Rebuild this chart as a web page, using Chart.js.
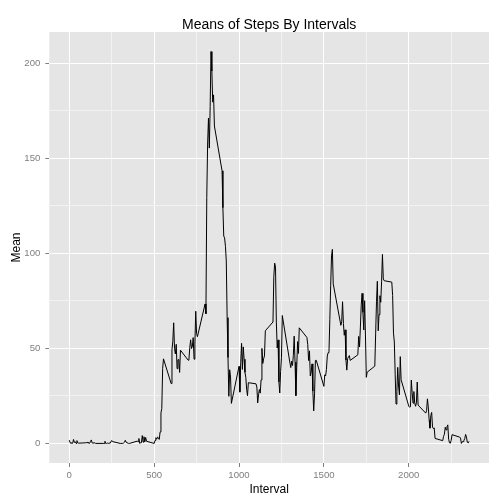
<!DOCTYPE html>
<html>
<head>
<meta charset="utf-8">
<script src="https://cdn.jsdelivr.net/npm/chart.js@4/dist/chart.umd.min.js"></script>
<style>
html,body{margin:0;padding:0;background:#fff;}
#wrap{width:504px;height:504px;}
</style>
</head>
<body>
<div id="wrap"><canvas id="c" width="504" height="504"></canvas></div>
<script>
const titleText = "Means of Steps By Intervals";
const xTitle = "Interval";
const yTitle = "Mean";

const intervals = [
0,5,10,15,20,25,30,35,40,45,50,55,
100,105,110,115,120,125,130,135,140,145,150,155,
200,205,210,215,220,225,230,235,240,245,250,255,
300,305,310,315,320,325,330,335,340,345,350,355,
400,405,410,415,420,425,430,435,440,445,450,455,
500,505,510,515,520,525,530,535,540,545,550,555,
600,605,610,615,620,625,630,635,640,645,650,655,
700,705,710,715,720,725,730,735,740,745,750,755,
800,805,810,815,820,825,830,835,840,845,850,855,
900,905,910,915,920,925,930,935,940,945,950,955,
1000,1005,1010,1015,1020,1025,1030,1035,1040,1045,1050,1055,
1100,1105,1110,1115,1120,1125,1130,1135,1140,1145,1150,1155,
1200,1205,1210,1215,1220,1225,1230,1235,1240,1245,1250,1255,
1300,1305,1310,1315,1320,1325,1330,1335,1340,1345,1350,1355,
1400,1405,1410,1415,1420,1425,1430,1435,1440,1445,1450,1455,
1500,1505,1510,1515,1520,1525,1530,1535,1540,1545,1550,1555,
1600,1605,1610,1615,1620,1625,1630,1635,1640,1645,1650,1655,
1700,1705,1710,1715,1720,1725,1730,1735,1740,1745,1750,1755,
1800,1805,1810,1815,1820,1825,1830,1835,1840,1845,1850,1855,
1900,1905,1910,1915,1920,1925,1930,1935,1940,1945,1950,1955,
2000,2005,2010,2015,2020,2025,2030,2035,2040,2045,2050,2055,
2100,2105,2110,2115,2120,2125,2130,2135,2140,2145,2150,2155,
2200,2205,2210,2215,2220,2225,2230,2235,2240,2245,2250,2255,
2300,2305,2310,2315,2320,2325,2330,2335,2340,2345,2350,2355
];

const meanSteps = [
1.7169811,0.3396226,0.1320755,0.1509434,0.0754717,2.0943396,0.5283019,0.8679245,0,1.4716981,
0.3018868,0.1320755,0.3207547,0.6792453,0.1509434,0.3396226,0,1.1132075,1.8301887,0.1698113,
0.1698113,0.3773585,0.2641509,0,0,0,1.1320755,0,0,0.1320755,
0,0.2264151,0,0,1.5471698,0.9433962,0,0,0,0,
0.2075472,0.6226415,1.6226415,0.5849057,0.490566,0.0754717,0,0,1.1886792,0.9433962,
2.5660377,0,0.3396226,0.3584906,4.1132075,0.6603774,3.490566,0.8301887,3.1132075,1.1132075,
0,1.5660377,3.0,2.245283,3.3207547,2.9622642,2.0943396,6.0566038,16.0188679,18.3396226,
39.4528302,44.490566,31.490566,49.2641509,53.7735849,63.4528302,49.9622642,47.0754717,52.1509434,39.3396226,
44.0188679,44.1698113,37.3584906,49.0377358,43.8113208,44.3773585,50.509434,54.509434,49.9245283,50.9811321,
55.6792453,44.3207547,52.2641509,69.5471698,57.8490566,56.1509434,73.3773585,68.2075472,129.4339623,157.5283019,
171.1509434,155.3962264,177.3018868,206.1698113,195.9245283,179.5660377,183.3962264,167.0188679,143.4528302,124.0377358,
109.1132075,108.1132075,103.7169811,95.9622642,66.2075472,45.2264151,24.7924528,38.754717,34.9811321,21.0566038,
40.5660377,26.9811321,42.4150943,52.6603774,38.9245283,50.7924528,44.2830189,37.4150943,34.6981132,28.3396226,
25.0943396,31.9433962,31.3584906,29.6792453,21.3207547,25.5471698,28.3773585,26.4716981,33.4339623,49.9811321,
42.0377358,44.6037736,46.0377358,59.2641509,63.8679245,87.6981132,94.8490566,92.7735849,63.3962264,50.1698113,
54.4716981,32.4150943,26.5283019,37.7358491,45.0566038,67.2830189,42.3396226,39.8867925,43.2641509,40.9811321,
46.245283,56.4339623,42.754717,25.1320755,39.9622642,53.5471698,47.3207547,60.8113208,55.754717,51.9622642,
43.5849057,48.6981132,35.4716981,37.5471698,41.8490566,27.509434,17.1132075,26.0754717,43.6226415,43.7735849,
30.0188679,36.0754717,35.490566,38.8490566,45.9622642,47.754717,48.1320755,65.3207547,82.9056604,98.6603774,
102.1132075,83.9622642,62.1320755,64.1320755,74.5471698,63.1698113,56.9056604,59.7735849,43.8679245,38.5660377,
44.6603774,45.4528302,46.2075472,43.6792453,46.6226415,56.3018868,50.7169811,61.2264151,72.7169811,78.9433962,
68.9433962,59.6603774,75.0943396,56.509434,34.7735849,37.4528302,40.6792453,58.0188679,74.6981132,85.3207547,
59.2641509,67.7735849,77.6981132,74.245283,85.3396226,99.4528302,86.5849057,85.6037736,84.8679245,77.8301887,
58.0377358,53.3584906,36.3207547,20.7169811,27.3962264,40.0188679,30.2075472,25.5471698,45.6603774,33.5283019,
19.6226415,19.0188679,19.3396226,33.3396226,26.8113208,21.1698113,27.3018868,21.3396226,19.5471698,21.3207547,
32.3018868,20.1509434,15.9433962,17.2264151,23.4528302,19.245283,12.4528302,8.0188679,14.6603774,16.3018868,
8.6792453,7.7924528,8.1320755,2.6226415,1.4528302,3.6792453,4.8113208,8.509434,7.0754717,8.6981132,
9.754717,2.2075472,0.3207547,0.1132075,1.6037736,4.6037736,3.3018868,2.8490566,0,0.8301887,
0.9622642,1.5849057,2.6037736,4.6981132,3.3018868,0.6415094,0.2264151,1.0754717
];

const xGridValues = [0,250,500,750,1000,1250,1500,1750,2000,2250];
const xTickLabels = [0,500,1000,1500,2000];
const yGridValues = [0,25,50,75,100,125,150,175,200];
const yTickLabels = [0,50,100,150,200];

const FONT = "'Liberation Sans', Arial, sans-serif";
const TICK_GREY = '#7F7F7F';

const points = intervals.map((iv, i) => ({x: iv, y: meanSteps[i]}));

const xMinD = Math.min(...intervals), xMaxD = Math.max(...intervals);
const yMinD = Math.min(...meanSteps), yMaxD = Math.max(...meanSteps);
const xPad = (xMaxD - xMinD) * 0.05, yPad = (yMaxD - yMinD) * 0.05;

const panelBg = {
  id: 'panelBg',
  beforeDraw(chart) {
    const {ctx, chartArea: a} = chart;
    ctx.save();
    ctx.fillStyle = '#FFFFFF';
    ctx.fillRect(0, 0, chart.width, chart.height);
    ctx.fillStyle = '#E5E5E5';
    ctx.fillRect(a.left, a.top, a.right - a.left, a.bottom - a.top);
    ctx.restore();
  },
  afterDraw(chart) {
    const {ctx, chartArea: a} = chart;
    ctx.save();
    ctx.fillStyle = '#000000';
    ctx.font = "14px " + FONT;
    ctx.textAlign = 'center';
    ctx.textBaseline = 'alphabetic';
    ctx.fillText(titleText, (a.left + a.right) / 2, 28.5);
    ctx.restore();
  }
};

function gridColor(majors) {
  return c => (c.tick && majors.includes(c.tick.value)) ? '#FFFFFF' : '#F2F2F2';
}
function tickColor(majors) {
  return c => (c.tick && majors.includes(c.tick.value)) ? TICK_GREY : 'rgba(0,0,0,0)';
}

new Chart(document.getElementById('c'), {
  type: 'line',
  data: {
    datasets: [{
      data: points,
      borderColor: '#000000',
      borderWidth: 1,
      pointRadius: 0,
      tension: 0,
      fill: false
    }]
  },
  options: {
    responsive: false,
    animation: false,
    devicePixelRatio: 1,
    layout: {padding: {top: 32, right: 15, bottom: 0, left: 0}},
    plugins: {legend: {display: false}, tooltip: {enabled: false}, title: {display: false}},
    scales: {
      x: {
        type: 'linear',
        min: xMinD - xPad,
        max: xMaxD + xPad,
        afterBuildTicks: s => { s.ticks = xGridValues.map(v => ({value: v})); },
        afterFit: s => { s.height = 41; },
        border: {display: false},
        grid: {color: gridColor(xTickLabels), lineWidth: 1, drawTicks: true, tickLength: 4, tickColor: tickColor(xTickLabels), tickWidth: 1},
        ticks: {
          autoSkip: false, maxRotation: 0, padding: 3,
          color: TICK_GREY, font: {family: FONT, size: 9.6},
          callback: v => xTickLabels.includes(v) ? String(v) : ''
        },
        title: {display: true, text: xTitle, color: '#000', font: {family: FONT, size: 12}, padding: {top: 0, bottom: 7}}
      },
      y: {
        type: 'linear',
        min: yMinD - yPad,
        max: yMaxD + yPad,
        afterBuildTicks: s => { s.ticks = yGridValues.map(v => ({value: v})); },
        afterFit: s => { s.width = 49.3; },
        border: {display: false},
        grid: {color: gridColor(yTickLabels), lineWidth: 1, drawTicks: true, tickLength: 4, tickColor: tickColor(yTickLabels), tickWidth: 1},
        ticks: {
          autoSkip: false, padding: 5,
          color: TICK_GREY, font: {family: FONT, size: 9.6},
          callback: v => yTickLabels.includes(v) ? String(v) : ''
        },
        title: {display: true, text: yTitle, color: '#000', font: {family: FONT, size: 12}, padding: {top: 9, bottom: 0}}
      }
    }
  },
  plugins: [panelBg]
});
</script>
</body>
</html>
